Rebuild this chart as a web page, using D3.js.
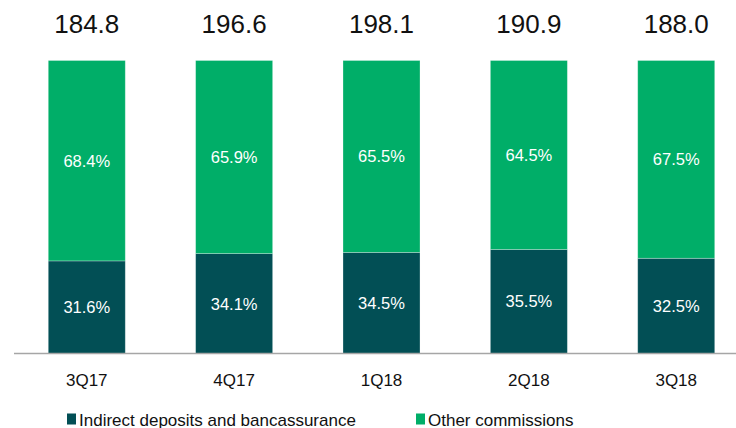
<!DOCTYPE html>
<html>
<head>
<meta charset="utf-8">
<script src="https://cdn.jsdelivr.net/npm/d3@7"></script>
<style>
  html, body { margin: 0; padding: 0; background: #fff; }
  svg { display: block; font-family: "Liberation Sans", Arial, sans-serif; }
</style>
</head>
<body>
<svg id="chart" width="736" height="428"></svg>
<script>
const categories = ["3Q17", "4Q17", "1Q18", "2Q18", "3Q18"];
const totals = ["184.8", "196.6", "198.1", "190.9", "188.0"];
const indirectShare = [31.6, 34.1, 34.5, 35.5, 32.5];
const otherShare = [68.4, 65.9, 65.5, 64.5, 67.5];
const seriesNames = ["Indirect deposits and bancassurance", "Other commissions"];
const seriesColors = ["#024f55", "#00ae68"];

const svg = d3.select("#chart");
const W = 736, H = 428;

const x = d3.scaleBand().domain(categories).range([13.1, 749.9]).paddingInner(0.4774).paddingOuter(0.2387);
const y = d3.scaleLinear().domain([0, 100]).range([353.5, 60.5]);

const rows = categories.map((c, i) => ({ cat: c, total: totals[i], vals: [indirectShare[i], otherShare[i]] }));

const stackData = rows.map(r => {
  let acc = 0;
  return r.vals.map((v, k) => { const s = { cat: r.cat, k, v, y0: acc, y1: acc + v }; acc += v; return s; });
}).flat();

svg.append("g").selectAll("rect").data(stackData).join("rect")
  .attr("x", d => x(d.cat))
  .attr("width", x.bandwidth())
  .attr("y", d => y(d.y1))
  .attr("height", d => y(d.y0) - y(d.y1))
  .attr("fill", d => seriesColors[d.k])
  .attr("stroke", "rgba(255,255,255,0.35)")
  .attr("stroke-width", 0.8);

svg.append("g").selectAll("text").data(stackData).join("text")
  .attr("x", d => x(d.cat) + x.bandwidth() / 2)
  .attr("y", d => (y(d.y0) + y(d.y1)) / 2 + 6)
  .attr("text-anchor", "middle")
  .attr("fill", "#ffffff")
  .attr("font-size", 16.5)
  .text(d => d.v.toFixed(1) + "%");

// totals
svg.append("g").selectAll("text").data(rows).join("text")
  .attr("x", d => x(d.cat) + x.bandwidth() / 2)
  .attr("y", 33)
  .attr("text-anchor", "middle")
  .attr("fill", "#111")
  .attr("font-size", 26)
  .text(d => d.total);

// axis
const axis = svg.append("g").attr("transform", `translate(0,${y(0)})`)
  .call(d3.axisBottom(x).tickSize(0).tickPadding(0));
axis.select(".domain").attr("d", `M14,0H736`).attr("stroke", "#a6a6a6").attr("stroke-width", 1.5);
axis.selectAll(".tick text")
  .attr("font-size", 17)
  .attr("fill", "#111")
  .attr("font-family", "Liberation Sans, Arial, sans-serif")
  .attr("dy", 0)
  .attr("y", 32.5);

// legend
const legendX = [67, 416];
const lg = svg.append("g").selectAll("g").data(seriesNames).join("g")
  .attr("transform", (d, i) => `translate(${legendX[i]},0)`);
lg.append("rect").attr("x", 0).attr("y", 413.5).attr("width", 9).attr("height", 11)
  .attr("fill", (d, i) => seriesColors[i]);
lg.append("text").attr("x", 12).attr("y", 425.5).attr("font-size", 17).attr("fill", "#111").text(d => d);
</script>
</body>
</html>
